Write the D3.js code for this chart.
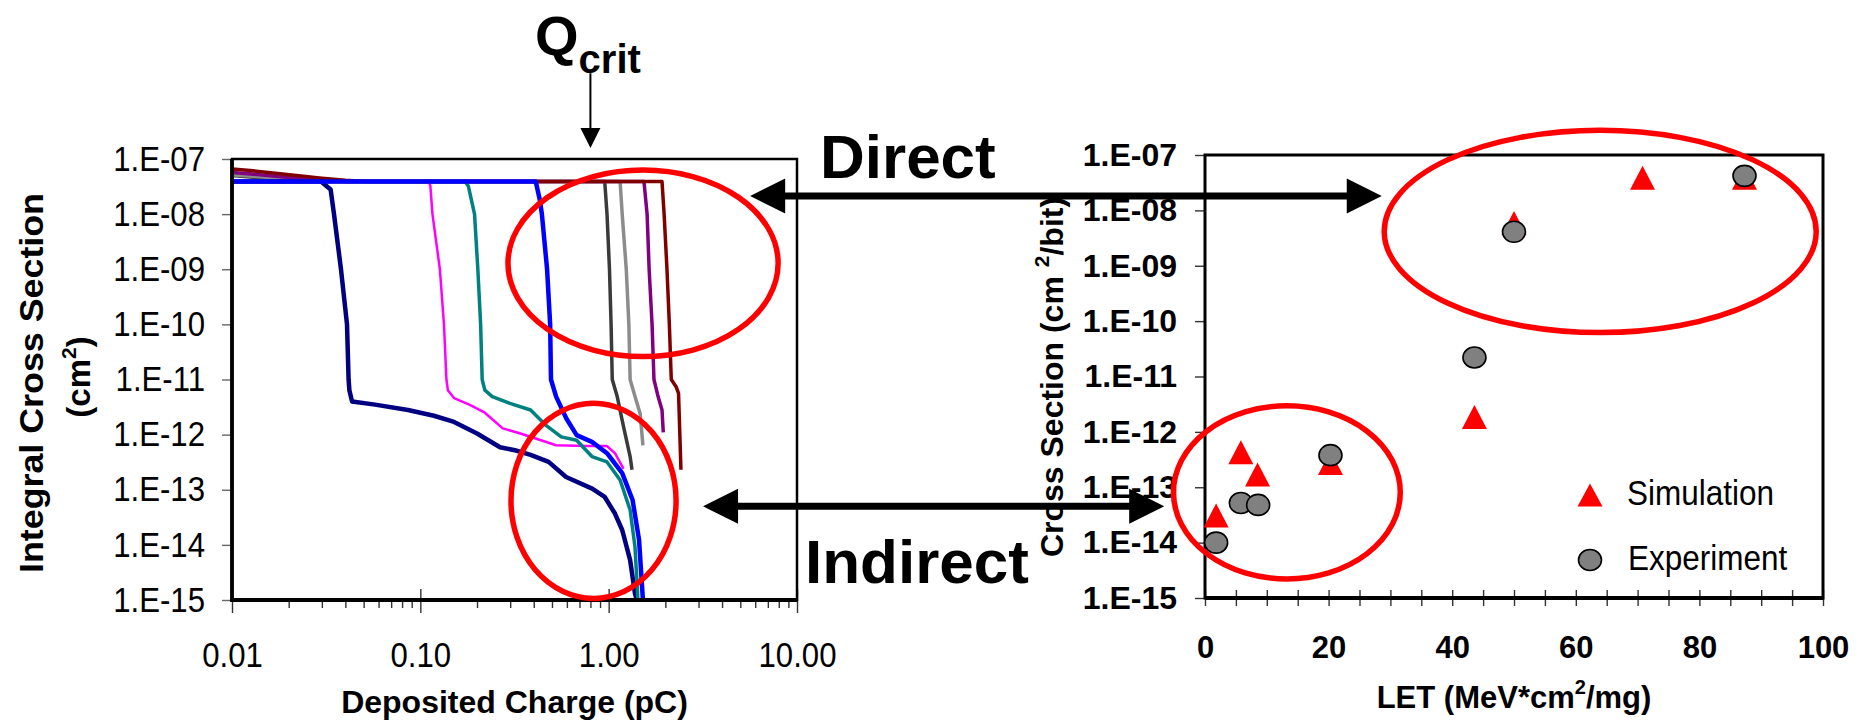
<!DOCTYPE html>
<html>
<head>
<meta charset="utf-8">
<script src="https://cdn.jsdelivr.net/npm/d3@7"></script>
<style>
  body { margin: 0; background: #fff; }
  svg { display: block; font-family: "Liberation Sans", Arial, sans-serif; }
</style>
</head>
<body>
<svg id="chart" width="1868" height="723"></svg>
<script>
// ---- left panel: integral cross section vs deposited charge, one curve per case ----
var curveNavy = [[0.01,3.9e-8],[0.0297,3.9e-8],[0.0334,2.8e-8],[0.0348,1e-8],[0.0379,1e-9],[0.0408,1e-10],[0.0416,1e-11],
  [0.042,6.4e-12],[0.0434,4.0e-12],[0.0575,3.5e-12],[0.086,2.8e-12],[0.118,2.2e-12],[0.151,1.7e-12],[0.2,1.05e-12],
  [0.265,5.9e-13],[0.318,5.2e-13],[0.385,4.3e-13],[0.48,3.2e-13],[0.594,1.7e-13],[0.817,1.05e-13],[0.953,7.4e-14],
  [1.08,3.7e-14],[1.18,1.86e-14],[1.3,5.3e-15],[1.38,1.3e-15],[1.41,1e-15]];
var curveMagenta = [[0.01,3.9e-8],[0.1106,3.9e-8],[0.113,3.3e-8],[0.116,1e-8],[0.127,1e-9],[0.1335,1e-10],[0.1376,1e-11],
  [0.14,6.4e-12],[0.151,4.6e-12],[0.182,3.5e-12],[0.22,2.5e-12],[0.274,1.3e-12],[0.34,1.05e-12],[0.437,7.9e-13],
  [0.526,6.4e-13],[0.766,6.2e-13],[0.98,6.2e-13],[1.08,4.6e-13],[1.2,2.4e-13]];
var curveTeal = [[0.01,3.9e-8],[0.173,3.9e-8],[0.18,3.2e-8],[0.194,1e-8],[0.202,1e-9],[0.209,1e-10],[0.213,1e-11],
  [0.22,6.4e-12],[0.241,4.9e-12],[0.299,3.7e-12],[0.385,2.8e-12],[0.465,1.47e-12],[0.56,9.1e-13],[0.676,7.9e-13],
  [0.815,4e-13],[0.98,3.2e-13],[1.15,1.5e-13],[1.3,4.3e-14],[1.38,9.1e-15],[1.43,1e-15]];
var curveBlue = [[0.01,3.9e-8],[0.41,3.9e-8],[0.431,1.8e-8],[0.442,1e-8],[0.471,1e-9],[0.489,1e-10],[0.494,1e-11],
  [0.526,4.9e-12],[0.596,1.96e-12],[0.676,9.8e-13],[0.815,7.4e-13],[0.98,4.6e-13],[1.18,2e-13],[1.34,6.5e-14],
  [1.45,1.23e-14],[1.52,1e-15]];
var curveDarkGray = [[0.01,5.0e-8],[0.015,4.5e-8],[0.022,4.1e-8],[0.03,3.9e-8],[0.953,3.9e-8],[0.98,1e-8],[1.01,1e-9],
  [1.03,1e-10],[1.045,1e-11],[1.11,4.9e-12],[1.2,1.38e-12],[1.3,4e-13],[1.33,2.3e-13]];
var curveGray = [[0.01,5.2e-8],[0.016,4.6e-8],[0.024,4.1e-8],[0.032,3.9e-8],[1.15,3.9e-8],[1.18,1e-8],[1.24,1e-9],
  [1.28,1e-10],[1.3,1e-11],[1.38,4.9e-12],[1.47,2.4e-12],[1.52,6.4e-13]];
var curvePurple = [[0.01,5.7e-8],[0.014,5.2e-8],[0.02,4.6e-8],[0.028,4.2e-8],[0.04,3.9e-8],[1.54,3.9e-8],[1.6,1e-8],
  [1.64,1e-9],[1.7,1e-10],[1.74,1e-11],[1.83,4.9e-12],[1.92,2.8e-12],[1.95,1.1e-12]];
var curveDarkRed = [[0.01,6.6e-8],[0.013,6.1e-8],[0.017,5.5e-8],[0.022,5.0e-8],[0.03,4.5e-8],[0.04,4.1e-8],[0.052,3.9e-8],
  [1.92,3.9e-8],[1.97,1e-8],[2.04,1e-9],[2.1,1e-10],[2.15,1e-11],[2.28,7.4e-12],[2.35,5.6e-12],[2.42,2.3e-13]];

// draw order (last on top), colours and widths
var leftCurves = [curveDarkGray, curveGray, curvePurple, curveDarkRed, curveNavy, curveMagenta, curveTeal, curveBlue];
var leftColors = ["#3a3a3a", "#8c8c8c", "#800080", "#800000", "#000080", "#ff00ff", "#008080", "#0000ff"];
var leftWidths = [3.5, 3.5, 3.5, 3.5, 4.5, 2.5, 3.5, 4.5];

var chargeDecades = [0.01, 0.1, 1, 10];
var sigmaDecades = [1e-15, 1e-14, 1e-13, 1e-12, 1e-11, 1e-10, 1e-9, 1e-8, 1e-7];

// ---- right panel: cross section vs LET ----
var simLET = [1.8, 5.8, 8.5, 20.3, 43.6, 50, 70.8, 87.3];
var simSigma = [3.1e-14, 4.3e-13, 1.7e-13, 2.75e-13, 1.86e-12, 5.9e-9, 3.9e-8, 3.9e-8];
var expLET = [1.8, 5.8, 8.6, 20.3, 43.6, 50, 87.3];
var expSigma = [1.0e-14, 5.2e-14, 4.8e-14, 3.8e-13, 2.2e-11, 4.1e-9, 4.2e-8];
var letTicks = d3.range(0, 101, 5);

// ---- annotations, in data units of each panel ----
var qCrit = 0.80;
var leftRings = [{q: [0.292, 7.94], s: [2.6e-11, 6.3e-8]}, {q: [0.303, 2.28], s: [1.07e-15, 3.7e-12]}];
var rightRings = [{let: [29.0, 98.9], s: [6.2e-11, 2.8e-7]}, {let: [-5.1, 31.6], s: [2.2e-15, 2.95e-12]}];
var directArrow = {fromQ: 5.64, toLET: 28.6, sigma: 2.13e-8};
var indirectArrow = {fromQ: 3.17, toLET: -6.6, sigma: 5.0e-14};

var svg = d3.select("#chart");

var xL = d3.scaleLog().domain([0.01, 10]).range([232, 797]);
var yL = d3.scaleLog().domain([1e-15, 1e-7]).range([600, 159]);
var xR = d3.scaleLinear().domain([0, 100]).range([1205, 1823]);
var yR = d3.scaleLog().domain([1e-15, 1e-7]).range([598, 155]);

var NARROW = 0.89;   // left panel tick labels are a tall, narrow Arial

function sciLabel(d) {
    var e = Math.round(Math.log10(d));
    return "1.E-" + (e > -10 ? "0" : "") + (-e);
}
function isDecade(d) {
    var l = Math.log10(d);
    return Math.abs(l - Math.round(l)) < 1e-6;
}
function styleAxis(g, size, weight) {
    g.attr("font-size", size).attr("font-family", null).attr("font-weight", weight);
    g.select(".domain").remove();
    g.selectAll(".tick line").attr("stroke", "#333").attr("stroke-width", 1.4);
    g.selectAll(".tick text").attr("fill", "#000");
}
function narrowText(g) {
    g.selectAll(".tick text")
        .attr("x", function () { return (+d3.select(this).attr("x") || 0) / NARROW; })
        .attr("transform", "scale(" + NARROW + ",1)");
}

// ================= left panel =================
var left = svg.append("g");
left.append("clipPath").attr("id", "clipL").append("rect")
    .attr("x", xL.range()[0]).attr("y", yL.range()[1])
    .attr("width", xL.range()[1] - xL.range()[0])
    .attr("height", yL.range()[0] - yL.range()[1]);

var lineL = d3.line()
    .x(function (d) { return xL(d[0]); })
    .y(function (d) { return yL(d[1]); });

left.append("g").attr("clip-path", "url(#clipL)")
    .selectAll("path")
    .data(leftCurves)
    .enter().append("path")
    .attr("d", lineL)
    .attr("fill", "none")
    .attr("stroke", function (d, i) { return leftColors[i]; })
    .attr("stroke-width", function (d, i) { return leftWidths[i]; })
    .attr("stroke-linejoin", "round");

// x axis: minor ticks then decades
left.append("g")
    .attr("transform", "translate(0," + yL.range()[0] + ")")
    .call(d3.axisBottom(xL).tickValues(xL.ticks().filter(function (d) { return !isDecade(d); }))
        .tickSize(8).tickFormat(""))
    .call(styleAxis, 35, "normal");

left.append("g")
    .attr("transform", "translate(0," + yL.range()[0] + ")")
    .call(d3.axisBottom(xL).tickValues(chargeDecades).tickSize(13).tickPadding(29).tickFormat(d3.format(".2f")))
    .call(styleAxis, 35, "normal")
    .call(narrowText)
    .call(function (g) { g.selectAll(".tick line").attr("y1", -11); });

left.append("g")
    .attr("transform", "translate(" + xL.range()[0] + ",0)")
    .call(d3.axisLeft(yL).tickValues(sigmaDecades).tickSize(10).tickPadding(17).tickFormat(sciLabel))
    .call(styleAxis, 35, "normal")
    .call(narrowText)
    .call(function (g) { g.selectAll(".tick line").attr("stroke", "#666"); });

// frame
left.append("rect")
    .attr("x", xL.range()[0]).attr("y", yL.range()[1])
    .attr("width", xL.range()[1] - xL.range()[0])
    .attr("height", yL.range()[0] - yL.range()[1])
    .attr("fill", "none").attr("stroke", "#000").attr("stroke-width", 2.5);
left.append("path")
    .attr("d", d3.line()([[xL.range()[0], yL.range()[1]], [xL.range()[0], yL.range()[0]], [xL.range()[1], yL.range()[0]]]))
    .attr("fill", "none").attr("stroke", "#000").attr("stroke-width", 3.8);

// titles
left.append("text")
    .attr("transform", "translate(43,383) rotate(-90)")
    .attr("text-anchor", "middle")
    .attr("font-size", 34).attr("font-weight", "bold")
    .attr("textLength", 380).attr("lengthAdjust", "spacingAndGlyphs")
    .text("Integral Cross Section");
var t2 = left.append("text")
    .attr("transform", "translate(90,377) rotate(-90)")
    .attr("text-anchor", "middle")
    .attr("font-size", 33).attr("font-weight", "bold");
t2.append("tspan").text("(cm");
t2.append("tspan").attr("font-size", 21).attr("dy", -14).text("2");
t2.append("tspan").attr("dy", 14).text(")");

left.append("text")
    .attr("x", d3.mean(xL.range())).attr("y", 713)
    .attr("text-anchor", "middle")
    .attr("font-size", 32).attr("font-weight", "bold")
    .text("Deposited Charge (pC)");

// ================= right panel =================
var right = svg.append("g");

right.append("g")
    .attr("transform", "translate(0," + yR.range()[0] + ")")
    .call(d3.axisBottom(xR).tickValues(letTicks).tickSize(8).tickPadding(30)
        .tickFormat(function (d) { return d % 20 === 0 ? d : ""; }))
    .call(styleAxis, 31, "bold")
    .call(function (g) { g.selectAll(".tick line").attr("y1", -8); });

right.append("g")
    .attr("transform", "translate(" + xR.range()[0] + ",0)")
    .call(d3.axisLeft(yR).tickValues(sigmaDecades).tickSize(10).tickPadding(18).tickFormat(sciLabel))
    .call(styleAxis, 32, "bold");

right.append("rect")
    .attr("x", xR.range()[0]).attr("y", yR.range()[1])
    .attr("width", xR.range()[1] - xR.range()[0])
    .attr("height", yR.range()[0] - yR.range()[1])
    .attr("fill", "none").attr("stroke", "#000").attr("stroke-width", 3);
right.append("line")
    .attr("x1", xR.range()[0]).attr("x2", xR.range()[1])
    .attr("y1", yR.range()[0]).attr("y2", yR.range()[0])
    .attr("stroke", "#000").attr("stroke-width", 4);

function trianglePath(w, h) {
    return "M0," + (-h / 2) + "L" + (w / 2) + "," + (h / 2) + "L" + (-w / 2) + "," + (h / 2) + "Z";
}

right.append("g").selectAll("path")
    .data(simLET)
    .enter().append("path")
    .attr("d", trianglePath(25, 24))
    .attr("transform", function (d, i) { return "translate(" + xR(d) + "," + yR(simSigma[i]) + ")"; })
    .attr("fill", "#ff0000");

right.append("g").selectAll("ellipse")
    .data(expLET)
    .enter().append("ellipse")
    .attr("cx", function (d) { return xR(d); })
    .attr("cy", function (d, i) { return yR(expSigma[i]); })
    .attr("rx", 11.5).attr("ry", 10.5)
    .attr("fill", "#808080").attr("stroke", "#000").attr("stroke-width", 1.6);

// legend
var legend = right.append("g").attr("font-size", 35);
legend.append("path").attr("d", trianglePath(25, 23)).attr("transform", "translate(1590,495)").attr("fill", "#ff0000");
legend.append("text").attr("transform", "translate(1627,505) scale(0.9,1)").text("Simulation");
legend.append("ellipse").attr("cx", 1590).attr("cy", 560).attr("rx", 11.5).attr("ry", 10.5)
    .attr("fill", "#808080").attr("stroke", "#000").attr("stroke-width", 1.6);
legend.append("text").attr("transform", "translate(1628,570) scale(0.9,1)").text("Experiment");

right.append("text")
    .attr("x", d3.mean(xR.range())).attr("y", 708)
    .attr("text-anchor", "middle")
    .attr("font-size", 31).attr("font-weight", "bold")
    .call(function (t) {
        t.append("tspan").text("LET (MeV*cm");
        t.append("tspan").attr("font-size", 20).attr("dy", -14).text("2");
        t.append("tspan").attr("dy", 14).text("/mg)");
    });

var t3 = right.append("text")
    .attr("transform", "translate(1063,377) rotate(-90)")
    .attr("text-anchor", "middle")
    .attr("font-size", 32).attr("font-weight", "bold");
t3.append("tspan").text("Cross Section (cm ");
t3.append("tspan").attr("font-size", 21).attr("dy", -14).text("2");
t3.append("tspan").attr("dy", 14).text("/bit)");

// ================= annotations =================
var notes = svg.append("g");

leftRings.forEach(function (r) {
    notes.append("ellipse")
        .attr("cx", (xL(r.q[0]) + xL(r.q[1])) / 2).attr("cy", (yL(r.s[0]) + yL(r.s[1])) / 2)
        .attr("rx", (xL(r.q[1]) - xL(r.q[0])) / 2).attr("ry", (yL(r.s[0]) - yL(r.s[1])) / 2)
        .attr("fill", "none").attr("stroke", "#ff0000").attr("stroke-width", 5.5);
});
rightRings.forEach(function (r) {
    notes.append("ellipse")
        .attr("cx", (xR(r.let[0]) + xR(r.let[1])) / 2).attr("cy", (yR(r.s[0]) + yR(r.s[1])) / 2)
        .attr("rx", (xR(r.let[1]) - xR(r.let[0])) / 2).attr("ry", (yR(r.s[0]) - yR(r.s[1])) / 2)
        .attr("fill", "none").attr("stroke", "#ff0000").attr("stroke-width", 5.5);
});

function doubleArrow(a) {
    var x1 = xL(a.fromQ), x2 = xR(a.toLET), y = yL(a.sigma), len = 35, half = 17.5;
    notes.append("line")
        .attr("x1", x1 + len - 2).attr("x2", x2 - len + 2).attr("y1", y).attr("y2", y)
        .attr("stroke", "#000").attr("stroke-width", 7);
    notes.append("path").attr("d", d3.line()([[x1, y], [x1 + len, y - half], [x1 + len, y + half]]) + "Z").attr("fill", "#000");
    notes.append("path").attr("d", d3.line()([[x2, y], [x2 - len, y - half], [x2 - len, y + half]]) + "Z").attr("fill", "#000");
}
doubleArrow(directArrow);
doubleArrow(indirectArrow);

// Qcrit pointer
var qx = xL(qCrit), tipY = yL(1.58e-7), topY = yL(3.6e-6);
notes.append("line").attr("x1", qx).attr("x2", qx).attr("y1", topY).attr("y2", tipY - 18)
    .attr("stroke", "#000").attr("stroke-width", 2);
notes.append("path").attr("d", d3.line()([[qx, tipY], [qx - 10, tipY - 20], [qx + 10, tipY - 20]]) + "Z").attr("fill", "#000");

var q = notes.append("text").attr("x", 535).attr("y", 55).attr("font-weight", "bold");
q.append("tspan").attr("font-size", 56).text("Q");
q.append("tspan").attr("font-size", 40).attr("dy", 18).text("crit");

notes.append("text").attr("x", 820).attr("y", 178)
    .attr("font-size", 62).attr("font-weight", "bold").text("Direct");
notes.append("text").attr("x", 805).attr("y", 583)
    .attr("font-size", 62).attr("font-weight", "bold").text("Indirect");
</script>
</body>
</html>
